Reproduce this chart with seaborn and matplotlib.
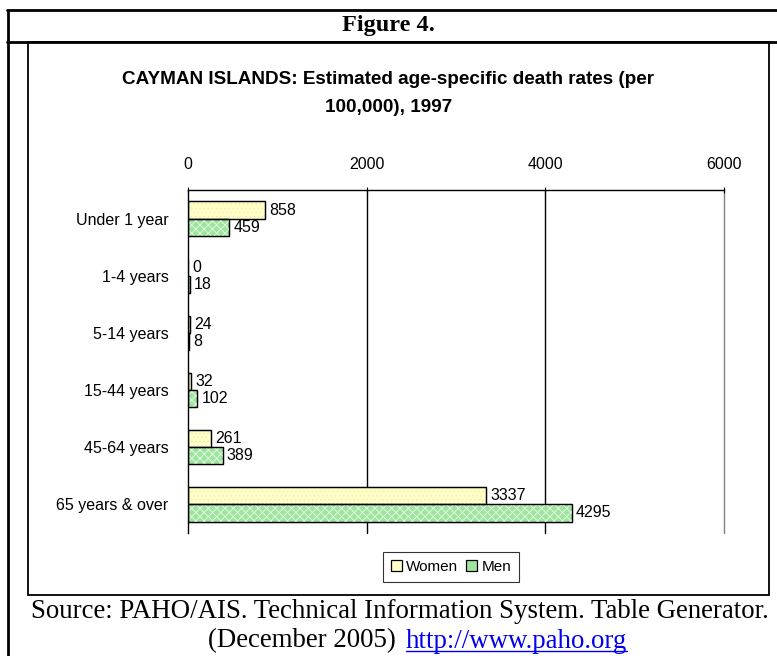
import numpy as np
import pandas as pd
import matplotlib.pyplot as plt
import seaborn as sns
from matplotlib.lines import Line2D
from matplotlib.patches import Rectangle

# data
age_groups = ["Under 1 year", "1-4 years", "5-14 years", "15-44 years",
              "45-64 years", "65 years & over"]
women = [858, 0, 24, 32, 261, 3337]
men = [459, 18, 8, 102, 389, 4295]
sexes = ["Women", "Men"]
x_ticks = [0, 2000, 4000, 6000]

W, H = 777, 656
sns.set_style("white")
plt.rcParams['font.family'] = ['Liberation Sans', 'DejaVu Sans']
plt.rcParams['hatch.linewidth'] = 0.6
for key in ['text.color', 'axes.labelcolor', 'xtick.color', 'ytick.color']:
    plt.rcParams[key] = 'black'

df = pd.DataFrame({
    'age': age_groups * 2,
    'sex': [sexes[0]] * len(age_groups) + [sexes[1]] * len(age_groups),
    'rate': women + men,
})

fig = plt.figure(figsize=(W / 100, H / 100), dpi=100)


def px(x0, y0, x1, y1):
    # pixel box -> figure fraction [left, bottom, width, height]
    return [x0 / W, 1 - y1 / H, (x1 - x0) / W, (y1 - y0) / H]


ax = fig.add_axes(px(188, 190, 724, 533))

palette = {"Women": "#FFFFC6", "Men": "#9FE59F"}
sns.barplot(data=df, x='rate', y='age', hue='sex', order=age_groups,
            hue_order=sexes, palette=palette, orient='h', width=0.6,
            edgecolor='black', linewidth=0.9, saturation=1, legend=True, ax=ax)

# faint texture over the fills, like the original
men_rgb = plt.matplotlib.colors.to_rgb(palette["Men"])
for bar in list(ax.patches):
    if bar.get_width() <= 0:
        continue
    is_men = np.allclose(bar.get_facecolor()[:3], men_rgb)
    over = Rectangle(bar.get_xy(), bar.get_width(), bar.get_height(),
                     fill=False, lw=0, zorder=bar.get_zorder() + 0.1,
                     hatch='xxxx' if is_men else '....',
                     edgecolor='#E6FAE6' if is_men else '#EDEDB8')
    ax.add_patch(over)
    edge = Rectangle(bar.get_xy(), bar.get_width(), bar.get_height(),
                     fill=False, lw=0.9, edgecolor='black',
                     zorder=bar.get_zorder() + 0.2)
    ax.add_patch(edge)

for cont in ax.containers:
    ax.bar_label(cont, fmt='%d', padding=3, fontsize=11.5, color='black')

ax.set_xlim(0, 6000)
ax.set_ylim(len(age_groups) - 0.5, -0.5)
ax.set_xticks(x_ticks)
ax.xaxis.tick_top()
ax.tick_params(axis='x', which='both', length=4, direction='inout',
               labelsize=11.5, pad=11, top=True, bottom=False, color='black')
ax.set_xlabel('')
ax.set_ylabel('')

ax.set_yticks(range(len(age_groups)))
ax.set_yticklabels(age_groups, fontsize=11.5)
ax.set_yticks(np.arange(-0.5, len(age_groups), 1.0), minor=True)
ax.tick_params(axis='y', which='major', length=0, pad=14)
ax.tick_params(axis='y', which='minor', length=5, direction='out',
               color='black', width=1)

for v in x_ticks[1:]:
    ax.axvline(v, color='black' if v < 6000 else '#808080', lw=1, zorder=0,
               clip_on=False)

for side in ['bottom', 'right']:
    ax.spines[side].set_visible(False)
for side in ['top', 'left']:
    ax.spines[side].set_color('black')
    ax.spines[side].set_linewidth(1)

handles, labels = ax.get_legend_handles_labels()
ax.get_legend().remove()
leg = fig.legend(handles, labels, loc='center', bbox_to_anchor=(451 / W, 1 - 567 / H),
                 ncol=2, frameon=True, fancybox=False, fontsize=11,
                 handlelength=0.7, handleheight=0.7, handletextpad=0.3,
                 columnspacing=0.5, borderpad=0.55)
leg.get_frame().set_edgecolor('black')
leg.get_frame().set_linewidth(0.8)

fig.text(0.5, 1 - 80 / H, "CAYMAN ISLANDS: Estimated age-specific death rates (per",
         ha='center', va='center', fontsize=13.6, fontweight='bold')
fig.text(0.5, 1 - 108 / H, "100,000), 1997",
         ha='center', va='center', fontsize=13.6, fontweight='bold')

serif = ['Liberation Serif', 'DejaVu Serif']
fig.text(388 / W, 1 - 26 / H, "Figure 4.", ha='center', va='center',
         fontsize=17.5, fontweight='bold', family=serif)
fig.text(400 / W, 1 - 611 / H,
         "Source: PAHO/AIS. Technical Information System. Table Generator.",
         ha='center', va='center', fontsize=19.4, family=serif)
fig.text(396 / W, 1 - 641 / H, "(December 2005)", ha='right', va='center',
         fontsize=19.4, family=serif)
link = fig.text(406 / W, 1 - 641 / H, "http://www.paho.org", ha='left', va='center',
                fontsize=19.4, family=serif, color='#0000EE')

fig.canvas.draw()
bb = link.get_window_extent()
fig.add_artist(Line2D([bb.x0 / W, bb.x1 / W], [1 - 651 / H, 1 - 651 / H],
                      color='#0000EE', lw=1))


# table / frame lines
def hline(y, x0, x1, lw=2):
    fig.add_artist(Line2D([x0 / W, x1 / W], [1 - y / H, 1 - y / H], color='black', lw=lw))


def vline(x, y0, y1, lw=2):
    fig.add_artist(Line2D([x / W, x / W], [1 - y0 / H, 1 - y1 / H], color='black', lw=lw))


hline(10, 7, W)
hline(42, 7, W)
vline(8, 10, H)
fig.add_artist(Rectangle((28 / W, 1 - 595 / H), (769 - 28) / W, (595 - 42) / H,
                         fill=False, edgecolor='black', lw=1.3))

fig.savefig('out.png', dpi=100)
